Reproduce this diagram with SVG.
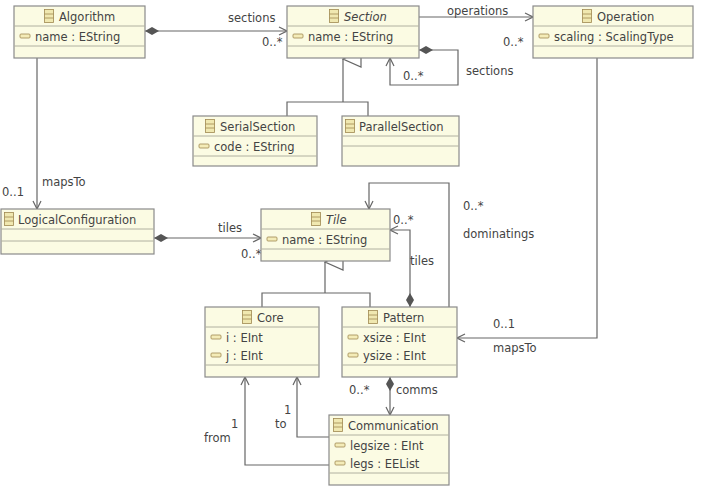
<svg xmlns="http://www.w3.org/2000/svg" width="703" height="489" viewBox="0 0 703 489">
<style>
.box{fill:#fbfbe3;stroke:#8a8a8a;stroke-width:1.2}
.sep{stroke:#b0b0a0;stroke-width:1}
text{font-family:"DejaVu Sans",sans-serif;font-size:11.5px;fill:#444}
.it{font-style:italic}
.c{stroke:#666;stroke-width:1.2;fill:none}
.ci{fill:#f0e8b0;stroke:#a08850;stroke-width:0.8}
.ai{fill:#f4ecb8;stroke:#a08850;stroke-width:0.8}
</style>
<defs>
<marker id="ar" markerWidth="10" markerHeight="10" refX="9" refY="5" orient="auto" markerUnits="userSpaceOnUse"><path d="M1,1 L9,5 L1,9" fill="none" stroke="#666" stroke-width="1.2"/></marker>
<marker id="dm" markerWidth="18" markerHeight="10" refX="1" refY="5" orient="auto" markerUnits="userSpaceOnUse"><path d="M1,5 L8,1 L15,5 L8,9 Z" fill="#555"/></marker>
<marker id="gen" markerWidth="18" markerHeight="20" refX="9" refY="1" orient="auto-start-reverse" markerUnits="userSpaceOnUse"><path d="M9,1 L17,19 L1,19 Z" fill="#fff" stroke="#666" stroke-width="1.2"/></marker>
<symbol id="cic" viewBox="0 0 10 14"><rect x="0.5" y="0.5" width="9" height="13" class="ci"/><path d="M0.5,5 H9.5 M0.5,9 H9.5" stroke="#a08850" stroke-width="0.8"/></symbol>
</defs>
<g id="connectors">
<path class="c" d="M145,31 H287" marker-start="url(#dm)" marker-end="url(#ar)"/>
<text x="228" y="22">sections</text><text x="262" y="46">0..*</text>
<path class="c" d="M419,17 H533" marker-end="url(#ar)"/>
<text x="447" y="15">operations</text><text x="503" y="46">0..*</text>
<path class="c" d="M419,50 H458 V85 H390 V58" marker-start="url(#dm)" marker-end="url(#ar)"/>
<text x="403" y="80">0..*</text><text x="466" y="75">sections</text>
<path class="c" d="M343,59 V102 M287,116 V102 H368 V116" marker-start="url(#gen)"/>
<path class="c" d="M37,58 V209" marker-end="url(#ar)"/>
<text x="42" y="186">mapsTo</text><text x="2" y="196">0..1</text>
<path class="c" d="M154,238 H261" marker-start="url(#dm)" marker-end="url(#ar)"/>
<text x="218" y="232">tiles</text><text x="241" y="258">0..*</text>
<path class="c" d="M325,262 V293 M262,307 V293 H370 V307" marker-start="url(#gen)"/>
<path class="c" d="M410,307 V230 H390" marker-start="url(#dm)" marker-end="url(#ar)"/>
<text x="410" y="265">tiles</text><text x="393" y="224">0..*</text>
<path class="c" d="M449,307 V183 H369 V209" marker-end="url(#ar)"/>
<text x="463" y="210">0..*</text><text x="463" y="238">dominatings</text>
<path class="c" d="M597,58 V338 H457" marker-end="url(#ar)"/>
<text x="493" y="328">0..1</text><text x="493" y="352">mapsTo</text>
<path class="c" d="M390,377 V415" marker-start="url(#dm)" marker-end="url(#ar)"/>
<text x="349" y="394">0..*</text><text x="396" y="394">comms</text>
<path class="c" d="M329,437 H297 V377" marker-end="url(#ar)"/>
<text x="284" y="414">1</text><text x="275" y="428">to</text>
<path class="c" d="M329,465 H245 V377" marker-end="url(#ar)"/>
<text x="231" y="428">1</text><text x="204" y="442">from</text>
</g>
<g id="Algorithm"><rect class="box" x="14" y="6" width="131" height="52"/><path class="sep" d="M14,26 H145 M14,46 H145"/><use href="#cic" x="44" y="9" width="10" height="14"/><text x="59" y="21">Algorithm</text><rect class="ai" x="20" y="34" width="10" height="4" rx="1"/><text x="35" y="41">name : EString</text></g>
<g id="Section"><rect class="box" x="287" y="6" width="132" height="52"/><path class="sep" d="M287,26 H419 M287,46 H419"/><use href="#cic" x="329" y="9" width="10" height="14"/><text x="344" y="21" class="it">Section</text><rect class="ai" x="293" y="34" width="10" height="4" rx="1"/><text x="308" y="41">name : EString</text></g>
<g id="Operation"><rect class="box" x="533" y="6" width="160" height="52"/><path class="sep" d="M533,26 H693 M533,46 H693"/><use href="#cic" x="582" y="9" width="10" height="14"/><text x="597" y="21">Operation</text><rect class="ai" x="539" y="34" width="10" height="4" rx="1"/><text x="554" y="41">scaling : ScalingType</text></g>
<g id="SerialSection"><rect class="box" x="193" y="116" width="124" height="50"/><path class="sep" d="M193,136 H317 M193,156 H317"/><use href="#cic" x="205" y="119" width="10" height="14"/><text x="220" y="131">SerialSection</text><rect class="ai" x="199" y="144" width="10" height="4" rx="1"/><text x="214" y="151">code : EString</text></g>
<g id="ParallelSection"><rect class="box" x="342" y="116" width="117" height="50"/><path class="sep" d="M342,136 H459 M342,146 H459"/><use href="#cic" x="345" y="119" width="10" height="14"/><text x="359" y="131">ParallelSection</text></g>
<g id="LogicalConfiguration"><rect class="box" x="1" y="209" width="153" height="45"/><path class="sep" d="M1,229 H154 M1,241 H154"/><use href="#cic" x="4" y="212" width="10" height="14"/><text x="18" y="224">LogicalConfiguration</text></g>
<g id="Tile"><rect class="box" x="261" y="209" width="129" height="52"/><path class="sep" d="M261,229 H390 M261,249 H390"/><use href="#cic" x="311" y="212" width="10" height="14"/><text x="326" y="224" class="it">Tile</text><rect class="ai" x="267" y="237" width="10" height="4" rx="1"/><text x="282" y="244">name : EString</text></g>
<g id="Core"><rect class="box" x="205" y="307" width="114" height="70"/><path class="sep" d="M205,327 H319 M205,365 H319"/><use href="#cic" x="242" y="310" width="10" height="14"/><text x="257" y="322">Core</text><rect class="ai" x="211" y="335" width="10" height="4" rx="1"/><text x="226" y="342">i : EInt</text><rect class="ai" x="211" y="353" width="10" height="4" rx="1"/><text x="226" y="360">j : EInt</text></g>
<g id="Pattern"><rect class="box" x="342" y="307" width="115" height="70"/><path class="sep" d="M342,327 H457 M342,365 H457"/><use href="#cic" x="368" y="310" width="10" height="14"/><text x="383" y="322">Pattern</text><rect class="ai" x="348" y="335" width="10" height="4" rx="1"/><text x="363" y="342">xsize : EInt</text><rect class="ai" x="348" y="353" width="10" height="4" rx="1"/><text x="363" y="360">ysize : EInt</text></g>
<g id="Communication"><rect class="box" x="329" y="415" width="120" height="70"/><path class="sep" d="M329,435 H449 M329,473 H449"/><use href="#cic" x="333" y="418" width="10" height="14"/><text x="348" y="430">Communication</text><rect class="ai" x="335" y="443" width="10" height="4" rx="1"/><text x="350" y="450">legsize : EInt</text><rect class="ai" x="335" y="461" width="10" height="4" rx="1"/><text x="350" y="468">legs : EEList</text></g>
</svg>
